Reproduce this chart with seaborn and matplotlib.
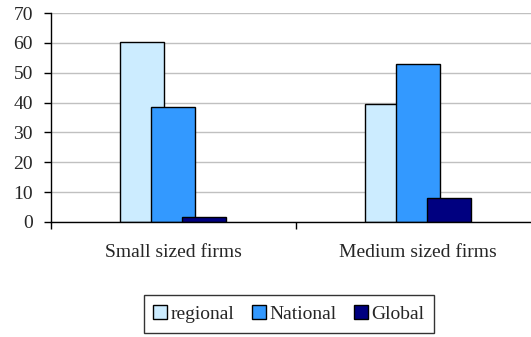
import pandas as pd
import numpy as np
import matplotlib.pyplot as plt
import seaborn as sns
from matplotlib.ticker import FixedLocator

# chart data
firm_sizes = ['Small sized firms', 'Medium sized firms']
scopes = ['regional', 'National', 'Global']
regional = [60.2, 39.6]
national = [38.5, 53.0]
global_vals = [1.8, 8.2]
colors = ['#CCECFF', '#3399FF', '#000080']

df = pd.DataFrame({
    'firm': firm_sizes * 3,
    'scope': [s for s in scopes for _ in firm_sizes],
    'value': regional + national + global_vals,
})

sns.set_style('white')
plt.rcParams['font.family'] = ['Liberation Serif', 'DejaVu Serif']

fig = plt.figure(figsize=(5.31, 3.37), dpi=100)
# axes runs past the right edge like in the original
ax = fig.add_axes([51 / 531, 1 - 222 / 337, 489 / 531, (222 - 13) / 337])

sns.barplot(data=df, x='firm', y='value', hue='scope', order=firm_sizes,
            hue_order=scopes, palette=colors, width=0.381, dodge=True,
            edgecolor='black', linewidth=1, saturation=1, legend=False, ax=ax)

# widen bars so they overlap like the original
new_w = 0.18
for cont in ax.containers:
    for p in cont.patches:
        cx = p.get_x() + p.get_width() / 2
        p.set_width(new_w)
        p.set_x(cx - new_w / 2)

ax.set_xlim(-0.5, 1.5)
ax.set_ylim(0, 70)
ax.set_yticks(range(0, 71, 10))
ax.yaxis.grid(True, color='#C0C0C0', linewidth=1)
ax.set_axisbelow(True)
ax.set_xlabel('')
ax.set_ylabel('')

for s in ['top', 'right']:
    ax.spines[s].set_visible(False)
for s in ['left', 'bottom']:
    ax.spines[s].set_color('black')
    ax.spines[s].set_linewidth(1)

ax.tick_params(axis='y', direction='out', length=5, width=1, color='black',
               labelsize=14, pad=8, left=True)
ax.tick_params(axis='x', which='major', length=0, labelsize=14, pad=16)
ax.xaxis.set_minor_locator(FixedLocator([-0.5, 0.5, 1.5]))
ax.tick_params(axis='x', which='minor', direction='out', length=5, width=1,
               color='black', bottom=True)

handles = [cont.patches[0] for cont in ax.containers]
fig.legend(handles, scopes, loc='center', bbox_to_anchor=(289 / 531, 1 - 314 / 337),
           ncol=3, frameon=True, fancybox=False, edgecolor='black',
           fontsize=14, handlelength=0.7, handleheight=0.7, handletextpad=0.2,
           columnspacing=0.9, borderpad=0.5)

fig.savefig('out.png', dpi=100)
